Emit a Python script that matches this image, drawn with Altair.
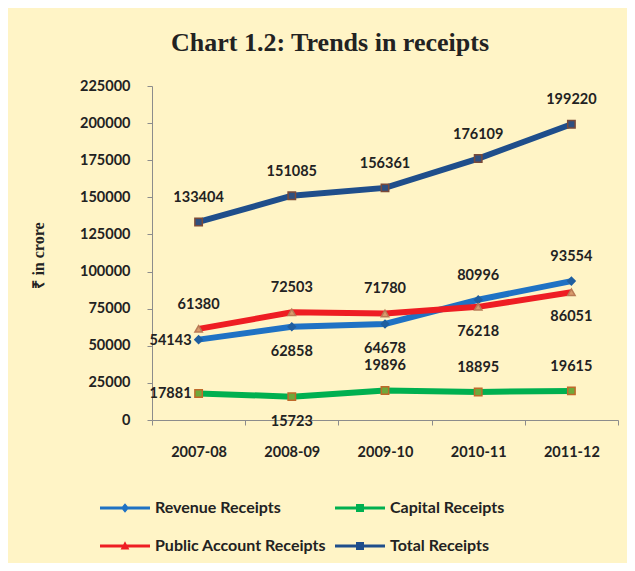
import altair as alt
import pandas as pd

years = ["2007-08", "2008-09", "2009-10", "2010-11", "2011-12"]
series = ["Revenue Receipts", "Capital Receipts", "Public Account Receipts", "Total Receipts"]
revenue = [54143, 62858, 64678, 80996, 93554]
capital = [17881, 15723, 19896, 18895, 19615]
public = [61380, 72503, 71780, 76218, 86051]
total = [133404, 151085, 156361, 176109, 199220]
y_ticks = [0, 25000, 50000, 75000, 100000, 125000, 150000, 175000, 200000, 225000]

# where each data label sits relative to its point
place_revenue = ["left", "below", "below", "above", "above"]
place_capital = ["left", "below", "above", "above", "above"]
place_public = ["above", "above", "above", "below", "below"]
place_total = ["above", "above", "above", "above", "above"]

line_colors = ["#1F72C4", "#00B050", "#EE1D23", "#1F4E8B"]
marker_fill = ["#1F5FA0", "#6FA83A", "#D99A6C", "#2F4F7F"]
marker_stroke = ["#1F5FA0", "#C0692A", "#B97A55", "#7A4A3A"]
marker_shape = ["diamond", "square", "triangle-up", "square"]
# legend glyphs: a line segment with the series marker in its middle (unit = 8px)
legend_paths = [
    "M-1,-0.19H5.25V0.19H-1Z M2.125,-0.6L2.625,0L2.125,0.6L1.625,0Z",
    "M-1,-0.19H5.25V0.19H-1Z M1.625,-0.5H2.625V0.5H1.625Z",
    "M-1,-0.19H5.25V0.19H-1Z M2.125,-0.6L2.675,0.45H1.575Z",
    "M-1,-0.19H5.25V0.19H-1Z M1.625,-0.5H2.625V0.5H1.625Z",
]

values = [revenue, capital, public, total]
places = [place_revenue, place_capital, place_public, place_total]
rows = []
for s, vals, pl in zip(series, values, places):
    for yr, v, p in zip(years, vals, pl):
        rows.append({"series": s, "year": yr, "value": v, "place": p})
df = pd.DataFrame(rows)

FONT = "Lato"
base = alt.Chart(df)

x_enc = alt.X(
    "year:N", sort=years, bandPosition=0.5,
    scale=alt.Scale(type="band", paddingInner=0, paddingOuter=0),
    axis=alt.Axis(title=None, tickBand="extent", labelAngle=0, labelFont=FONT,
                  labelFontSize=14.5, labelFontWeight="bold", labelColor="#222222",
                  labelPadding=20, tickSize=5, domainColor="#8C8C8C", tickColor="#8C8C8C",
                  grid=False),
)
y_enc = alt.Y(
    "value:Q", scale=alt.Scale(domain=[0, 225000], nice=False),
    axis=alt.Axis(title="₹ in crore", values=y_ticks, format="d", labelFont=FONT,
                  labelFontSize=14.5, labelFontWeight="bold", labelColor="#222222",
                  labelPadding=17, tickSize=5, domainColor="#8C8C8C", tickColor="#8C8C8C",
                  grid=False, titleFont="Liberation Serif", titleFontSize=16,
                  titleFontWeight="bold", titleColor="#222222", titleX=-106, titleY=169,
                  titleAngle=270),
)
color_scale = alt.Scale(domain=series, range=line_colors)

legend = alt.Legend(
    title=None, orient="none", legendX=-52, legendY=414, columns=2,
    direction="horizontal",
    symbolSize=256, symbolOpacity=1, symbolStrokeWidth=0, labelOffset=39,
    labelFont=FONT, labelFontSize=16, labelFontWeight="bold", labelColor="#222222",
    rowPadding=22, columnPadding=8, labelLimit=300,
)
legend_layer = base.mark_point(filled=True, opacity=0).encode(
    x=x_enc, y=y_enc,
    color=alt.Color("series:N", scale=color_scale, sort=series, legend=legend),
    shape=alt.Shape("series:N", scale=alt.Scale(domain=series, range=legend_paths),
                    sort=series, legend=legend),
)

layers = []
for i, s in enumerate(series):
    layers.append(
        base.transform_filter(alt.datum.series == s).mark_line(
            strokeWidth=6, color=line_colors[i]
        ).encode(x=x_enc, y=y_enc)
    )
for i, s in enumerate(series):
    layers.append(
        base.transform_filter(alt.datum.series == s).mark_point(
            filled=True, shape=marker_shape[i], size=55, fill=marker_fill[i],
            stroke=marker_stroke[i], strokeWidth=1.5, opacity=1,
        ).encode(x=x_enc, y=y_enc)
    )

text_common = dict(font=FONT, fontSize=14.5, fontWeight="bold", color="#222222")
above = base.transform_filter(alt.datum.place == "above").mark_text(
    dy=-24, align="center", baseline="middle", **text_common
).encode(x=x_enc, y=y_enc, text=alt.Text("value:Q", format="d"))
below = base.transform_filter(alt.datum.place == "below").mark_text(
    dy=25, align="center", baseline="middle", **text_common
).encode(x=x_enc, y=y_enc, text=alt.Text("value:Q", format="d"))
left = base.transform_filter(alt.datum.place == "left").mark_text(
    dx=-7, dy=1, align="right", baseline="middle", **text_common
).encode(x=x_enc, y=y_enc, text=alt.Text("value:Q", format="d"))

layers += [above, below, left, legend_layer]

chart = alt.layer(*layers).properties(
    width=466, height=334,
    title=alt.TitleParams("Chart 1.2: Trends in receipts", font="Liberation Serif",
                          fontSize=26, fontWeight="bold", color="#222222",
                          anchor="middle", dx=-55, offset=22),
    background="#FFF4C6",
    padding={"left": 144, "top": 78, "right": 9, "bottom": 143},
    autosize=alt.AutoSizeParams(type="none"),
).configure_view(stroke=None)

chart.save("out.html", embed_options={"renderer": "svg", "actions": False})
